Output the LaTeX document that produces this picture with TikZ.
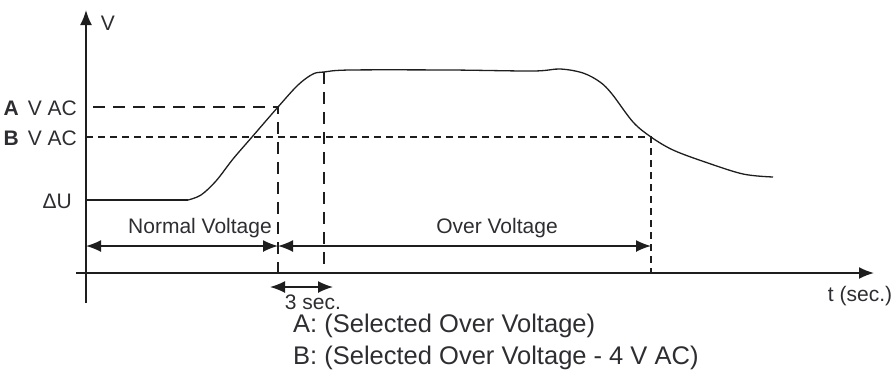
\documentclass[tikz,border=0pt]{standalone}
\usepackage{fontspec}
\setmainfont{Liberation Sans}
\usetikzlibrary{arrows.meta, positioning, calc}
\definecolor{inkcolor}{RGB}{30,30,30}
\definecolor{textcolor}{RGB}{45,45,50}

\begin{document}
\begin{tikzpicture}[
    x=1pt, y=-1pt,
    axis/.style={line width=1.8pt, inkcolor, -{Latex[length=15pt, width=12pt]}},
    longdash/.style={line width=1.8pt, inkcolor, dash pattern=on 12pt off 8pt},
    shortdash/.style={line width=1.8pt, inkcolor, dash pattern=on 7pt off 5pt},
    span/.style={line width=1.5pt, inkcolor, {Latex[length=15pt, width=12pt]}-{Latex[length=15pt, width=12pt]}},
    curve/.style={line width=1.3pt, inkcolor},
    tag/.style={font=\fontsize{21}{24}\selectfont, text=textcolor, inner sep=0pt},
    note/.style={font=\fontsize{25.5}{28}\selectfont, text=textcolor, inner sep=0pt, anchor=west}
]
    \useasboundingbox (0,0) rectangle (894,376);

    % Axes
    \coordinate (vtop) at (86,10);
    \coordinate (vbot) at (86,303);
    \coordinate (tleft) at (76,273);
    \coordinate (tright) at (874,273);
    \draw[axis] (vbot) -- (vtop);
    \draw[axis] (tleft) -- (tright);
    \node[tag] (vlabel) at (108,23) {V};
    \node[tag] (tlabel) at (860,296) {t (sec.)};

    % Levels on the curve
    \coordinate (a) at (278,107);
    \coordinate (peak) at (324,72);
    \coordinate (b) at (651,137);
    \coordinate (aleft) at (93,107);
    \coordinate (bleft) at (86,137);

    % Voltage curve
    \draw[curve] (86,200) -- (188,200);
    \draw[curve] plot[smooth, tension=0.55] coordinates {(188,200) (201,195) (216,181) (233,159) (252,137) (a) (298,85) (313,74) (peak) (350,70) (450,70) (533,71) (560,69) (583,73) (600,82) (612,94) (633,122) (b) (673,150) (705,162) (743,174) (773,177)};

    % Dashed guides
    \draw[longdash] (aleft) -- (a) -- (a |- tleft);
    \draw[longdash] (peak) -- (peak |- tleft);
    \draw[shortdash] (bleft) -- (b) -- (b |- tleft);

    % Level labels
    \node[tag, anchor=east] (alevel) at (77,108) {\textbf{A}\hspace{9pt}V AC};
    \node[tag, anchor=east] (blevel) at (77,138) {\textbf{B}\hspace{9pt}V AC};
    \node[tag, anchor=east] (ulevel) at (72,201) {ΔU};

    % Spans
    \coordinate (spanleft) at (86,246);
    \draw[span] (spanleft) -- (a |- spanleft);
    \draw[span] (a |- spanleft) -- (b |- spanleft);
    \node[tag] (normal) at (200,228) {Normal Voltage};
    \node[tag] (over) at (497,228) {Over Voltage};

    \coordinate (secleft) at (270,287);
    \coordinate (secright) at (333,287);
    \draw[span] (secleft) -- (secright);
    \node[tag] (delay) at (313,302) {3 sec.};

    % Notes
    \node[note] (anote) at (293,326) {A: (Selected Over Voltage)};
    \node[note] (bnote) at (293,358) {B: (Selected Over Voltage - 4 V AC)};
\end{tikzpicture}
\end{document}
